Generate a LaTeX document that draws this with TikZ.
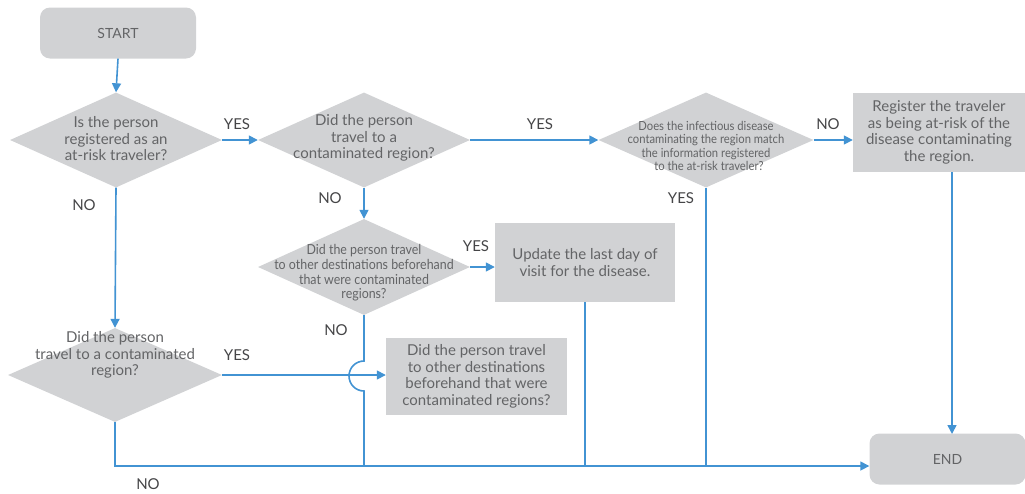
\documentclass[tikz,border=0pt]{standalone}
\usepackage{fontspec}
\setmainfont{Lato}
\newfontfamily\condfont[FakeStretch=0.9]{Lato}
\usetikzlibrary{shapes.geometric,arrows.meta}
\definecolor{boxgray}{HTML}{D1D2D4}
\definecolor{flowblue}{HTML}{4293D3}
\definecolor{txtgray}{HTML}{636466}
\definecolor{lblgray}{HTML}{454547}
\begin{document}
\begin{tikzpicture}[x=1pt,y=-1pt,
  dia/.style={diamond, fill=boxgray, inner sep=0pt, minimum width=212pt, minimum height=95pt},
  term/.style={rectangle, rounded corners=10pt, fill=boxgray, inner sep=0pt, minimum width=156pt, minimum height=51pt, text=txtgray, font=\fontsize{14}{16}\selectfont},
  procbox/.style={rectangle, fill=boxgray, inner sep=0pt, text=txtgray, align=center, font=\fontsize{15}{16.5}\selectfont},
  txt/.style={align=center, text=txtgray, inner sep=0pt, font=\fontsize{15}{16.5}\selectfont},
  smalltxt/.style={align=center, text=txtgray, inner sep=0pt, font=\condfont\fontsize{12.5}{13.2}\selectfont},
  midtxt/.style={align=center, text=txtgray, inner sep=0pt, font=\condfont\fontsize{13.8}{14.6}\selectfont},
  lbl/.style={text=lblgray, inner sep=0pt, font=\fontsize{15}{17}\selectfont},
  flow/.style={draw=flowblue, line width=1.6pt},
  arr/.style={flow, -{Triangle[length=9pt,width=9pt]}}
]
\useasboundingbox (0,0) rectangle (1025,493);

% nodes
\node[term] (start) at (118,33) {START};
\node[dia] (d1) at (116,140) {};
\node[txt] (t1) at (116,139) {Is the person\\registered as an\\at-risk traveler?};
\node[dia] (d2) at (364,140) {};
\node[txt] (t2) at (364,138) {Did the person\\travel to a\\contaminated region?};
\node[dia, minimum width=215pt] (d3) at (706,140) {};
\node[smalltxt] (t3) at (706,146) {Does the infectious disease\\contaminating the region match\\the information registered\\\hspace*{6pt}to the at-risk traveler?};
\node[procbox, minimum width=172pt, minimum height=79pt] (reg) at (939,132.5) {Register the traveler\\as being at-risk of the\\disease contaminating\\the region.};
\node[dia, minimum height=96pt] (d4) at (364,267) {};
\node[midtxt] (t4) at (364,273) {Did the person travel\\to other destinations beforehand\\that were contaminated\\regions?};
\node[procbox, minimum width=180pt, minimum height=79pt] (upd) at (585,262.5) {Update the last day of\\visit for the disease.};
\node[dia, minimum width=214pt, minimum height=94pt] (d5) at (115,375) {};
\node[txt] (t5) at (115,355) {Did the person\\travel to a contaminated\\region?};
\node[procbox, minimum width=181pt, minimum height=77pt] (oth) at (476.5,376.5) {Did the person travel\\to other destinations\\beforehand that were\\contaminated regions?};
\node[term] (end) at (947.5,459) {END};

% labels
\node[lbl] (l1) at (237,124) {YES};
\node[lbl] (l2) at (540,124) {YES};
\node[lbl] (l3) at (828,124) {NO};
\node[lbl] (l4) at (84,205) {NO};
\node[lbl] (l5) at (330,198) {NO};
\node[lbl] (l6) at (681,198) {YES};
\node[lbl] (l7) at (476,246) {YES};
\node[lbl] (l8) at (336,330) {NO};
\node[lbl] (l9) at (237,355) {YES};
\node[lbl] (l10) at (148,484) {NO};

\coordinate (botline) at (116,466);
\coordinate (hop) at (364,376);
\coordinate (endin) at (952,434);

% connectors
\draw[arr] (start.south) -- (d1.north);
\draw[arr] (d1.east) -- (d2.west);
\draw[arr] (d2.east) -- (d3.west);
\draw[arr] (d3.east) -- (d3.east -| reg.west);
\draw[arr] (endin |- reg.south) -- (endin);
\draw[arr] (d2.south) -- (d4.north);
\draw[arr] (d4.east) -- (d4.east -| upd.west);
\draw[arr] (d1.south) -- (d5.north);
\draw[arr] (d5.east) -- (d5.east -| oth.west);
\draw[arr] (d5.south) -- (d5.south |- botline) -- (botline -| end.west);
\draw[flow] (d4.south) -- ([yshift=15pt]hop) arc[start angle=90, end angle=270, radius=15pt] -- (d4.south |- botline);
\draw[flow] (upd.south) -- (upd.south |- botline);
\draw[flow] (d3.south) -- (d3.south |- botline);
\end{tikzpicture}
\end{document}
